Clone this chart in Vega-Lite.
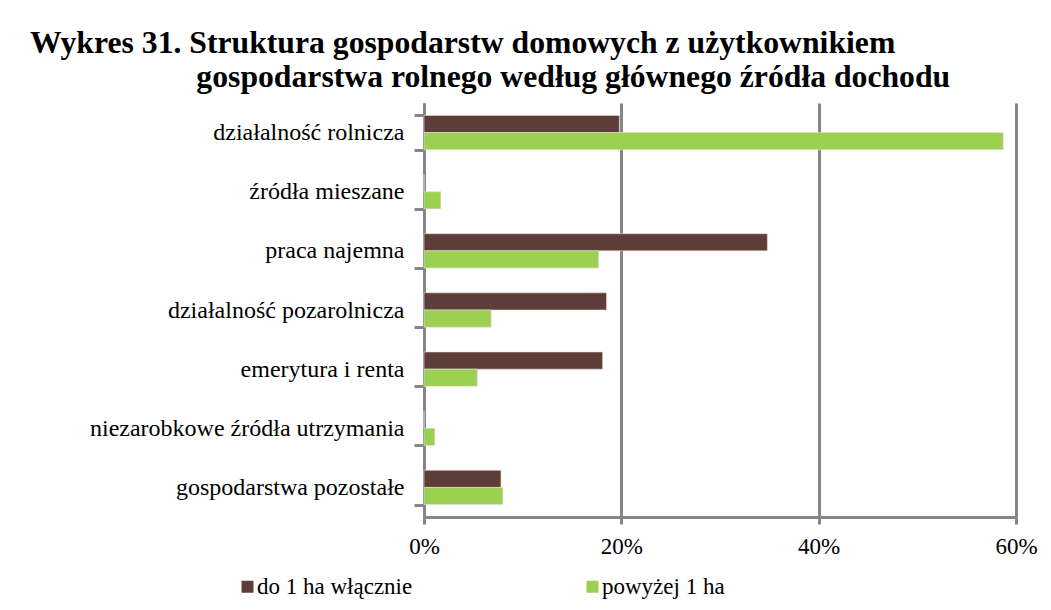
{
  "$schema": "https://vega.github.io/schema/vega-lite/v6.json",
  "autosize": "none",
  "width": 592,
  "height": 414,
  "padding": {"left": 424, "top": 103, "right": 35, "bottom": 93},
  "background": "white",
  "title": {
    "text": ["Wykres 31. Struktura gospodarstw domowych z użytkownikiem", "\u200b\u00a0\u00a0\u00a0\u00a0\u00a0\u00a0\u00a0\u00a0\u00a0\u00a0\u00a0\u00a0\u00a0\u00a0\u00a0\u00a0\u00a0\u00a0\u00a0\u00a0\u00a0gospodarstwa rolnego według głównego źródła dochodu"],
    "anchor": "start",
    "frame": "group",
    "dx": -394,
    "offset": -3,
    "font": "Liberation Serif",
    "fontSize": 31.7,
    "fontWeight": "bold",
    "color": "black",
    "lineHeight": 34
  },
  "data": {
    "values": [
      {"kategoria": "działalność rolnicza", "grupa": "do 1 ha włącznie", "udzial": 0.198},
      {"kategoria": "działalność rolnicza", "grupa": "powyżej 1 ha", "udzial": 0.587},
      {"kategoria": "źródła mieszane", "grupa": "do 1 ha włącznie", "udzial": 0},
      {"kategoria": "źródła mieszane", "grupa": "powyżej 1 ha", "udzial": 0.017},
      {"kategoria": "praca najemna", "grupa": "do 1 ha włącznie", "udzial": 0.348},
      {"kategoria": "praca najemna", "grupa": "powyżej 1 ha", "udzial": 0.177},
      {"kategoria": "działalność pozarolnicza", "grupa": "do 1 ha włącznie", "udzial": 0.185},
      {"kategoria": "działalność pozarolnicza", "grupa": "powyżej 1 ha", "udzial": 0.068},
      {"kategoria": "emerytura i renta", "grupa": "do 1 ha włącznie", "udzial": 0.181},
      {"kategoria": "emerytura i renta", "grupa": "powyżej 1 ha", "udzial": 0.054},
      {"kategoria": "niezarobkowe źródła utrzymania", "grupa": "do 1 ha włącznie", "udzial": 0},
      {"kategoria": "niezarobkowe źródła utrzymania", "grupa": "powyżej 1 ha", "udzial": 0.011},
      {"kategoria": "gospodarstwa pozostałe", "grupa": "do 1 ha włącznie", "udzial": 0.078},
      {"kategoria": "gospodarstwa pozostałe", "grupa": "powyżej 1 ha", "udzial": 0.080}
    ]
  },
  "mark": {"type": "bar", "stroke": "#e8dcdc", "strokeWidth": 0.6},
  "encoding": {
    "y": {
      "field": "kategoria",
      "type": "nominal",
      "sort": null,
      "title": null,
      "scale": {"paddingInner": 0.42, "paddingOuter": 0.21},
      "axis": {
        "tickBand": "extent",
        "domainColor": "#868686",
        "domainWidth": 3,
        "tickColor": "#868686",
        "tickWidth": 3,
        "tickSize": 10,
        "labelPadding": 10,
        "labelFont": "Liberation Serif",
        "labelFontSize": 24,
        "labelColor": "black",
        "labelLimit": 500
      }
    },
    "yOffset": {
      "field": "grupa",
      "type": "nominal",
      "sort": ["do 1 ha włącznie", "powyżej 1 ha"]
    },
    "x": {
      "field": "udzial",
      "type": "quantitative",
      "title": null,
      "scale": {"domain": [0, 0.6], "nice": false},
      "axis": {
        "values": [0, 0.2, 0.4, 0.6],
        "format": ".0%",
        "grid": true,
        "gridColor": "#868686",
        "gridWidth": 3,
        "domainColor": "#868686",
        "domainWidth": 3,
        "tickColor": "#868686",
        "tickWidth": 3,
        "tickSize": 7,
        "labelPadding": 11,
        "labelFont": "Liberation Serif",
        "labelFontSize": 23,
        "labelColor": "black",
        "labelFlush": false
      }
    },
    "color": {
      "field": "grupa",
      "type": "nominal",
      "title": null,
      "scale": {"domain": ["do 1 ha włącznie", "powyżej 1 ha"], "range": ["#5E3C38", "#9BD050"]},
      "legend": {
        "orient": "none",
        "legendX": -188,
        "legendY": 472,
        "direction": "horizontal",
        "columns": 2,
        "columnPadding": 168,
        "symbolType": "square",
        "symbolSize": 144,
        "symbolStrokeWidth": 0,
        "symbolOffset": 0,
        "labelOffset": -2,
        "labelFont": "Liberation Serif",
        "labelFontSize": 23,
        "labelColor": "black",
        "labelLimit": 400
      }
    }
  },
  "config": {
    "view": {"stroke": null},
    "axis": {"gridOpacity": 1}
  }
}
